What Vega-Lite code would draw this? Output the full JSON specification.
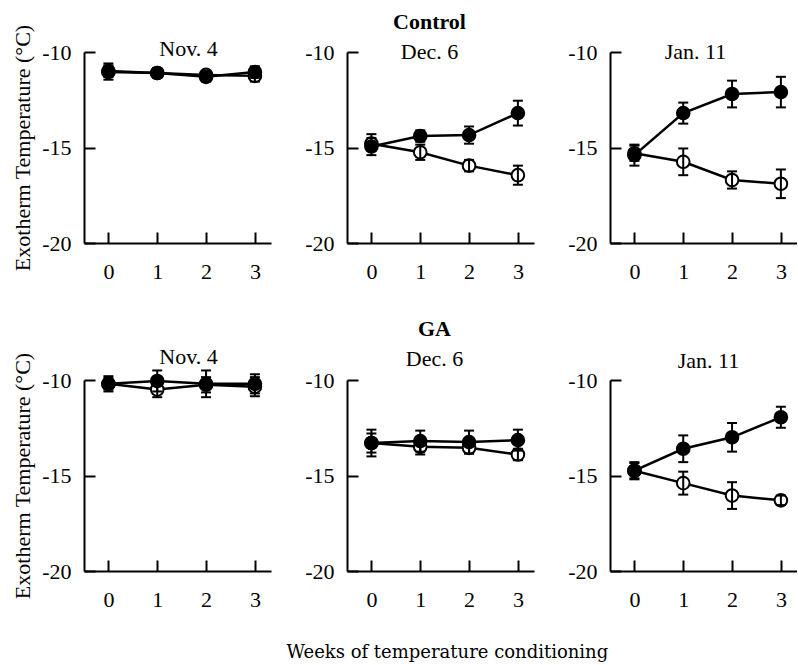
{
  "$schema": "https://vega.github.io/schema/vega-lite/v6.json",
  "background": "white",
  "padding": {"left": 11, "top": 11, "right": 0, "bottom": 0},
  "config": {
    "font": "Liberation Serif",
    "view": {"stroke": null},
    "axis": {"grid": false, "domainColor": "black", "domainWidth": 2, "tickColor": "black", "tickWidth": 2, "tickSize": -11, "labelColor": "black", "labelFont": "Liberation Serif", "labelFontSize": 22, "labelFlush": false, "labelOverlap": false, "titleFont": "Liberation Serif", "titleFontSize": 22, "titleFontWeight": "normal", "titleColor": "black"},
    "axisX": {"labelPadding": 29},
    "axisY": {"labelPadding": 24, "titlePadding": 7, "labelExpr": "replace(datum.label, '−', '-')"},
    "title": {"font": "Liberation Serif", "fontSize": 22, "fontWeight": "normal", "color": "black", "anchor": "middle", "baseline": "alphabetic"}
  },
  "datasets": {
    "d": [
      {"grp": "Control", "date": "Nov. 4", "s": "filled", "week": 0, "mean": -11.05, "lo": -11.45, "hi": -10.6},
      {"grp": "Control", "date": "Nov. 4", "s": "filled", "week": 1, "mean": -11.1, "lo": -11.35, "hi": -10.85},
      {"grp": "Control", "date": "Nov. 4", "s": "filled", "week": 2, "mean": -11.3, "lo": -11.55, "hi": -11.05},
      {"grp": "Control", "date": "Nov. 4", "s": "filled", "week": 3, "mean": -11.05, "lo": -11.35, "hi": -10.75},
      {"grp": "Control", "date": "Nov. 4", "s": "open", "week": 0, "mean": -11.0, "lo": -11.3, "hi": -10.7},
      {"grp": "Control", "date": "Nov. 4", "s": "open", "week": 1, "mean": -11.1, "lo": -11.3, "hi": -10.9},
      {"grp": "Control", "date": "Nov. 4", "s": "open", "week": 2, "mean": -11.2, "lo": -11.4, "hi": -11.0},
      {"grp": "Control", "date": "Nov. 4", "s": "open", "week": 3, "mean": -11.25, "lo": -11.55, "hi": -10.95},
      {"grp": "Control", "date": "Dec. 6", "s": "filled", "week": 0, "mean": -14.95, "lo": -15.4, "hi": -14.3},
      {"grp": "Control", "date": "Dec. 6", "s": "filled", "week": 1, "mean": -14.4, "lo": -14.7, "hi": -14.1},
      {"grp": "Control", "date": "Dec. 6", "s": "filled", "week": 2, "mean": -14.35, "lo": -14.8, "hi": -13.9},
      {"grp": "Control", "date": "Dec. 6", "s": "filled", "week": 3, "mean": -13.2, "lo": -13.85, "hi": -12.55},
      {"grp": "Control", "date": "Dec. 6", "s": "open", "week": 0, "mean": -14.8, "lo": -15.1, "hi": -14.5},
      {"grp": "Control", "date": "Dec. 6", "s": "open", "week": 1, "mean": -15.25, "lo": -15.65, "hi": -14.85},
      {"grp": "Control", "date": "Dec. 6", "s": "open", "week": 2, "mean": -15.95, "lo": -16.25, "hi": -15.65},
      {"grp": "Control", "date": "Dec. 6", "s": "open", "week": 3, "mean": -16.45, "lo": -16.95, "hi": -15.95},
      {"grp": "Control", "date": "Jan. 11", "s": "filled", "week": 0, "mean": -15.4, "lo": -15.95, "hi": -14.85},
      {"grp": "Control", "date": "Jan. 11", "s": "filled", "week": 1, "mean": -13.2, "lo": -13.75, "hi": -12.65},
      {"grp": "Control", "date": "Jan. 11", "s": "filled", "week": 2, "mean": -12.2, "lo": -12.9, "hi": -11.5},
      {"grp": "Control", "date": "Jan. 11", "s": "filled", "week": 3, "mean": -12.1, "lo": -12.9, "hi": -11.3},
      {"grp": "Control", "date": "Jan. 11", "s": "open", "week": 0, "mean": -15.3, "lo": -15.7, "hi": -14.9},
      {"grp": "Control", "date": "Jan. 11", "s": "open", "week": 1, "mean": -15.75, "lo": -16.45, "hi": -15.05},
      {"grp": "Control", "date": "Jan. 11", "s": "open", "week": 2, "mean": -16.7, "lo": -17.15, "hi": -16.25},
      {"grp": "Control", "date": "Jan. 11", "s": "open", "week": 3, "mean": -16.9, "lo": -17.65, "hi": -16.15},
      {"grp": "GA", "date": "Nov. 4", "s": "filled", "week": 0, "mean": -10.2, "lo": -10.6, "hi": -9.8},
      {"grp": "GA", "date": "Nov. 4", "s": "filled", "week": 1, "mean": -10.05, "lo": -10.6, "hi": -9.5},
      {"grp": "GA", "date": "Nov. 4", "s": "filled", "week": 2, "mean": -10.2, "lo": -10.9, "hi": -9.5},
      {"grp": "GA", "date": "Nov. 4", "s": "filled", "week": 3, "mean": -10.2, "lo": -10.7, "hi": -9.7},
      {"grp": "GA", "date": "Nov. 4", "s": "open", "week": 0, "mean": -10.2, "lo": -10.5, "hi": -9.9},
      {"grp": "GA", "date": "Nov. 4", "s": "open", "week": 1, "mean": -10.5, "lo": -10.9, "hi": -10.1},
      {"grp": "GA", "date": "Nov. 4", "s": "open", "week": 2, "mean": -10.25, "lo": -10.65, "hi": -9.85},
      {"grp": "GA", "date": "Nov. 4", "s": "open", "week": 3, "mean": -10.35, "lo": -10.85, "hi": -9.85},
      {"grp": "GA", "date": "Dec. 6", "s": "filled", "week": 0, "mean": -13.3, "lo": -14.0, "hi": -12.6},
      {"grp": "GA", "date": "Dec. 6", "s": "filled", "week": 1, "mean": -13.2, "lo": -13.75, "hi": -12.65},
      {"grp": "GA", "date": "Dec. 6", "s": "filled", "week": 2, "mean": -13.25, "lo": -13.85, "hi": -12.65},
      {"grp": "GA", "date": "Dec. 6", "s": "filled", "week": 3, "mean": -13.15, "lo": -13.7, "hi": -12.6},
      {"grp": "GA", "date": "Dec. 6", "s": "open", "week": 0, "mean": -13.3, "lo": -13.8, "hi": -12.8},
      {"grp": "GA", "date": "Dec. 6", "s": "open", "week": 1, "mean": -13.5, "lo": -13.9, "hi": -13.1},
      {"grp": "GA", "date": "Dec. 6", "s": "open", "week": 2, "mean": -13.55, "lo": -13.85, "hi": -13.25},
      {"grp": "GA", "date": "Dec. 6", "s": "open", "week": 3, "mean": -13.9, "lo": -14.2, "hi": -13.6},
      {"grp": "GA", "date": "Jan. 11", "s": "filled", "week": 0, "mean": -14.75, "lo": -15.2, "hi": -14.3},
      {"grp": "GA", "date": "Jan. 11", "s": "filled", "week": 1, "mean": -13.6, "lo": -14.3, "hi": -12.9},
      {"grp": "GA", "date": "Jan. 11", "s": "filled", "week": 2, "mean": -13.0, "lo": -13.75, "hi": -12.25},
      {"grp": "GA", "date": "Jan. 11", "s": "filled", "week": 3, "mean": -11.95, "lo": -12.5, "hi": -11.4},
      {"grp": "GA", "date": "Jan. 11", "s": "open", "week": 0, "mean": -14.75, "lo": -15.15, "hi": -14.35},
      {"grp": "GA", "date": "Jan. 11", "s": "open", "week": 1, "mean": -15.4, "lo": -16.0, "hi": -14.8},
      {"grp": "GA", "date": "Jan. 11", "s": "open", "week": 2, "mean": -16.05, "lo": -16.75, "hi": -15.35},
      {"grp": "GA", "date": "Jan. 11", "s": "open", "week": 3, "mean": -16.3, "lo": -16.55, "hi": -16.05}
    ]
  },
  "title": {"text": "Weeks of temperature conditioning", "orient": "bottom", "font": "DejaVu Serif", "fontSize": 18, "offset": 34, "dx": 43},
  "columns": 3,
  "bounds": "flush",
  "spacing": {"row": 137, "column": 76},
  "concat": [
    {
      "data": {"name": "d"}, "width": 187, "height": 191,
      "title": {"text": "Nov. 4", "offset": -37, "dx": 11},
      "transform": [{"filter": "datum.grp === 'Control' && datum.date === 'Nov. 4'"}],
      "encoding": {"x": {"field": "week", "type": "quantitative", "scale": {"domain": [-0.5, 3.33], "nice": false, "zero": false}, "axis": {"values": [0, 1, 2, 3], "title": null}}},
      "layer": [
        {"mark": {"type": "line", "color": "black", "strokeWidth": 2.5}, "encoding": {"y": {"field": "mean", "type": "quantitative", "scale": {"domain": [-20, -10], "nice": false, "zero": false}, "axis": {"values": [-20, -15, -10], "title": "Exotherm Temperature (°C)"}}, "detail": {"field": "s"}}},
        {"mark": {"type": "point", "shape": "circle", "size": 160, "stroke": "black", "strokeWidth": 2, "opacity": 1, "fillOpacity": 1}, "encoding": {"y": {"field": "mean", "type": "quantitative"}, "order": {"field": "s", "sort": "descending"}, "fill": {"field": "s", "type": "nominal", "scale": {"domain": ["filled", "open"], "range": ["black", "white"]}, "legend": null}}},
        {"mark": {"type": "rule", "color": "black", "strokeWidth": 2}, "encoding": {"y": {"field": "lo", "type": "quantitative"}, "y2": {"field": "hi"}}},
        {"mark": {"type": "tick", "orient": "horizontal", "size": 10, "thickness": 2, "color": "black", "opacity": 1}, "encoding": {"y": {"field": "hi", "type": "quantitative"}}},
        {"mark": {"type": "tick", "orient": "horizontal", "size": 10, "thickness": 2, "color": "black", "opacity": 1}, "encoding": {"y": {"field": "lo", "type": "quantitative"}}}
      ]
    },
    {
      "data": {"name": "d"}, "width": 187, "height": 191,
      "title": {"text": "Control", "fontWeight": "bold", "subtitle": "Dec. 6", "subtitleFont": "Liberation Serif", "subtitleFontSize": 22, "subtitleColor": "black", "subtitlePadding": 8, "offset": -23, "dx": -11},
      "transform": [{"filter": "datum.grp === 'Control' && datum.date === 'Dec. 6'"}],
      "encoding": {"x": {"field": "week", "type": "quantitative", "scale": {"domain": [-0.5, 3.33], "nice": false, "zero": false}, "axis": {"values": [0, 1, 2, 3], "title": null}}},
      "layer": [
        {"mark": {"type": "line", "color": "black", "strokeWidth": 2.5}, "encoding": {"y": {"field": "mean", "type": "quantitative", "scale": {"domain": [-20, -10], "nice": false, "zero": false}, "axis": {"values": [-20, -15, -10], "title": null}}, "detail": {"field": "s"}}},
        {"mark": {"type": "point", "shape": "circle", "size": 160, "stroke": "black", "strokeWidth": 2, "opacity": 1, "fillOpacity": 1}, "encoding": {"y": {"field": "mean", "type": "quantitative"}, "order": {"field": "s", "sort": "descending"}, "fill": {"field": "s", "type": "nominal", "scale": {"domain": ["filled", "open"], "range": ["black", "white"]}, "legend": null}}},
        {"mark": {"type": "rule", "color": "black", "strokeWidth": 2}, "encoding": {"y": {"field": "lo", "type": "quantitative"}, "y2": {"field": "hi"}}},
        {"mark": {"type": "tick", "orient": "horizontal", "size": 10, "thickness": 2, "color": "black", "opacity": 1}, "encoding": {"y": {"field": "hi", "type": "quantitative"}}},
        {"mark": {"type": "tick", "orient": "horizontal", "size": 10, "thickness": 2, "color": "black", "opacity": 1}, "encoding": {"y": {"field": "lo", "type": "quantitative"}}}
      ]
    },
    {
      "data": {"name": "d"}, "width": 187, "height": 191,
      "title": {"text": "Jan. 11", "offset": -23, "dx": -8},
      "transform": [{"filter": "datum.grp === 'Control' && datum.date === 'Jan. 11'"}],
      "encoding": {"x": {"field": "week", "type": "quantitative", "scale": {"domain": [-0.5, 3.33], "nice": false, "zero": false}, "axis": {"values": [0, 1, 2, 3], "title": null}}},
      "layer": [
        {"mark": {"type": "line", "color": "black", "strokeWidth": 2.5}, "encoding": {"y": {"field": "mean", "type": "quantitative", "scale": {"domain": [-20, -10], "nice": false, "zero": false}, "axis": {"values": [-20, -15, -10], "title": null}}, "detail": {"field": "s"}}},
        {"mark": {"type": "point", "shape": "circle", "size": 160, "stroke": "black", "strokeWidth": 2, "opacity": 1, "fillOpacity": 1}, "encoding": {"y": {"field": "mean", "type": "quantitative"}, "order": {"field": "s", "sort": "descending"}, "fill": {"field": "s", "type": "nominal", "scale": {"domain": ["filled", "open"], "range": ["black", "white"]}, "legend": null}}},
        {"mark": {"type": "rule", "color": "black", "strokeWidth": 2}, "encoding": {"y": {"field": "lo", "type": "quantitative"}, "y2": {"field": "hi"}}},
        {"mark": {"type": "tick", "orient": "horizontal", "size": 10, "thickness": 2, "color": "black", "opacity": 1}, "encoding": {"y": {"field": "hi", "type": "quantitative"}}},
        {"mark": {"type": "tick", "orient": "horizontal", "size": 10, "thickness": 2, "color": "black", "opacity": 1}, "encoding": {"y": {"field": "lo", "type": "quantitative"}}}
      ]
    },
    {
      "data": {"name": "d"}, "width": 187, "height": 191,
      "title": {"text": "Nov. 4", "offset": -17, "dx": 11},
      "transform": [{"filter": "datum.grp === 'GA' && datum.date === 'Nov. 4'"}],
      "encoding": {"x": {"field": "week", "type": "quantitative", "scale": {"domain": [-0.5, 3.33], "nice": false, "zero": false}, "axis": {"values": [0, 1, 2, 3], "title": null}}},
      "layer": [
        {"mark": {"type": "line", "color": "black", "strokeWidth": 2.5}, "encoding": {"y": {"field": "mean", "type": "quantitative", "scale": {"domain": [-20, -10], "nice": false, "zero": false}, "axis": {"values": [-20, -15, -10], "title": "Exotherm Temperature (°C)"}}, "detail": {"field": "s"}}},
        {"mark": {"type": "point", "shape": "circle", "size": 160, "stroke": "black", "strokeWidth": 2, "opacity": 1, "fillOpacity": 1}, "encoding": {"y": {"field": "mean", "type": "quantitative"}, "order": {"field": "s", "sort": "descending"}, "fill": {"field": "s", "type": "nominal", "scale": {"domain": ["filled", "open"], "range": ["black", "white"]}, "legend": null}}},
        {"mark": {"type": "rule", "color": "black", "strokeWidth": 2}, "encoding": {"y": {"field": "lo", "type": "quantitative"}, "y2": {"field": "hi"}}},
        {"mark": {"type": "tick", "orient": "horizontal", "size": 10, "thickness": 2, "color": "black", "opacity": 1}, "encoding": {"y": {"field": "hi", "type": "quantitative"}}},
        {"mark": {"type": "tick", "orient": "horizontal", "size": 10, "thickness": 2, "color": "black", "opacity": 1}, "encoding": {"y": {"field": "lo", "type": "quantitative"}}}
      ]
    },
    {
      "data": {"name": "d"}, "width": 187, "height": 191,
      "title": {"text": "GA", "fontWeight": "bold", "subtitle": "Dec. 6", "subtitleFont": "Liberation Serif", "subtitleFontSize": 22, "subtitleColor": "black", "subtitlePadding": 8, "offset": -2, "dx": -6},
      "transform": [{"filter": "datum.grp === 'GA' && datum.date === 'Dec. 6'"}],
      "encoding": {"x": {"field": "week", "type": "quantitative", "scale": {"domain": [-0.5, 3.33], "nice": false, "zero": false}, "axis": {"values": [0, 1, 2, 3], "title": null}}},
      "layer": [
        {"mark": {"type": "line", "color": "black", "strokeWidth": 2.5}, "encoding": {"y": {"field": "mean", "type": "quantitative", "scale": {"domain": [-20, -10], "nice": false, "zero": false}, "axis": {"values": [-20, -15, -10], "title": null}}, "detail": {"field": "s"}}},
        {"mark": {"type": "point", "shape": "circle", "size": 160, "stroke": "black", "strokeWidth": 2, "opacity": 1, "fillOpacity": 1}, "encoding": {"y": {"field": "mean", "type": "quantitative"}, "order": {"field": "s", "sort": "descending"}, "fill": {"field": "s", "type": "nominal", "scale": {"domain": ["filled", "open"], "range": ["black", "white"]}, "legend": null}}},
        {"mark": {"type": "rule", "color": "black", "strokeWidth": 2}, "encoding": {"y": {"field": "lo", "type": "quantitative"}, "y2": {"field": "hi"}}},
        {"mark": {"type": "tick", "orient": "horizontal", "size": 10, "thickness": 2, "color": "black", "opacity": 1}, "encoding": {"y": {"field": "hi", "type": "quantitative"}}},
        {"mark": {"type": "tick", "orient": "horizontal", "size": 10, "thickness": 2, "color": "black", "opacity": 1}, "encoding": {"y": {"field": "lo", "type": "quantitative"}}}
      ]
    },
    {
      "data": {"name": "d"}, "width": 187, "height": 191,
      "title": {"text": "Jan. 11", "offset": -4, "dx": 5},
      "transform": [{"filter": "datum.grp === 'GA' && datum.date === 'Jan. 11'"}],
      "encoding": {"x": {"field": "week", "type": "quantitative", "scale": {"domain": [-0.5, 3.33], "nice": false, "zero": false}, "axis": {"values": [0, 1, 2, 3], "title": null}}},
      "layer": [
        {"mark": {"type": "line", "color": "black", "strokeWidth": 2.5}, "encoding": {"y": {"field": "mean", "type": "quantitative", "scale": {"domain": [-20, -10], "nice": false, "zero": false}, "axis": {"values": [-20, -15, -10], "title": null}}, "detail": {"field": "s"}}},
        {"mark": {"type": "point", "shape": "circle", "size": 160, "stroke": "black", "strokeWidth": 2, "opacity": 1, "fillOpacity": 1}, "encoding": {"y": {"field": "mean", "type": "quantitative"}, "order": {"field": "s", "sort": "descending"}, "fill": {"field": "s", "type": "nominal", "scale": {"domain": ["filled", "open"], "range": ["black", "white"]}, "legend": null}}},
        {"mark": {"type": "rule", "color": "black", "strokeWidth": 2}, "encoding": {"y": {"field": "lo", "type": "quantitative"}, "y2": {"field": "hi"}}},
        {"mark": {"type": "tick", "orient": "horizontal", "size": 10, "thickness": 2, "color": "black", "opacity": 1}, "encoding": {"y": {"field": "hi", "type": "quantitative"}}},
        {"mark": {"type": "tick", "orient": "horizontal", "size": 10, "thickness": 2, "color": "black", "opacity": 1}, "encoding": {"y": {"field": "lo", "type": "quantitative"}}}
      ]
    }
  ]
}
